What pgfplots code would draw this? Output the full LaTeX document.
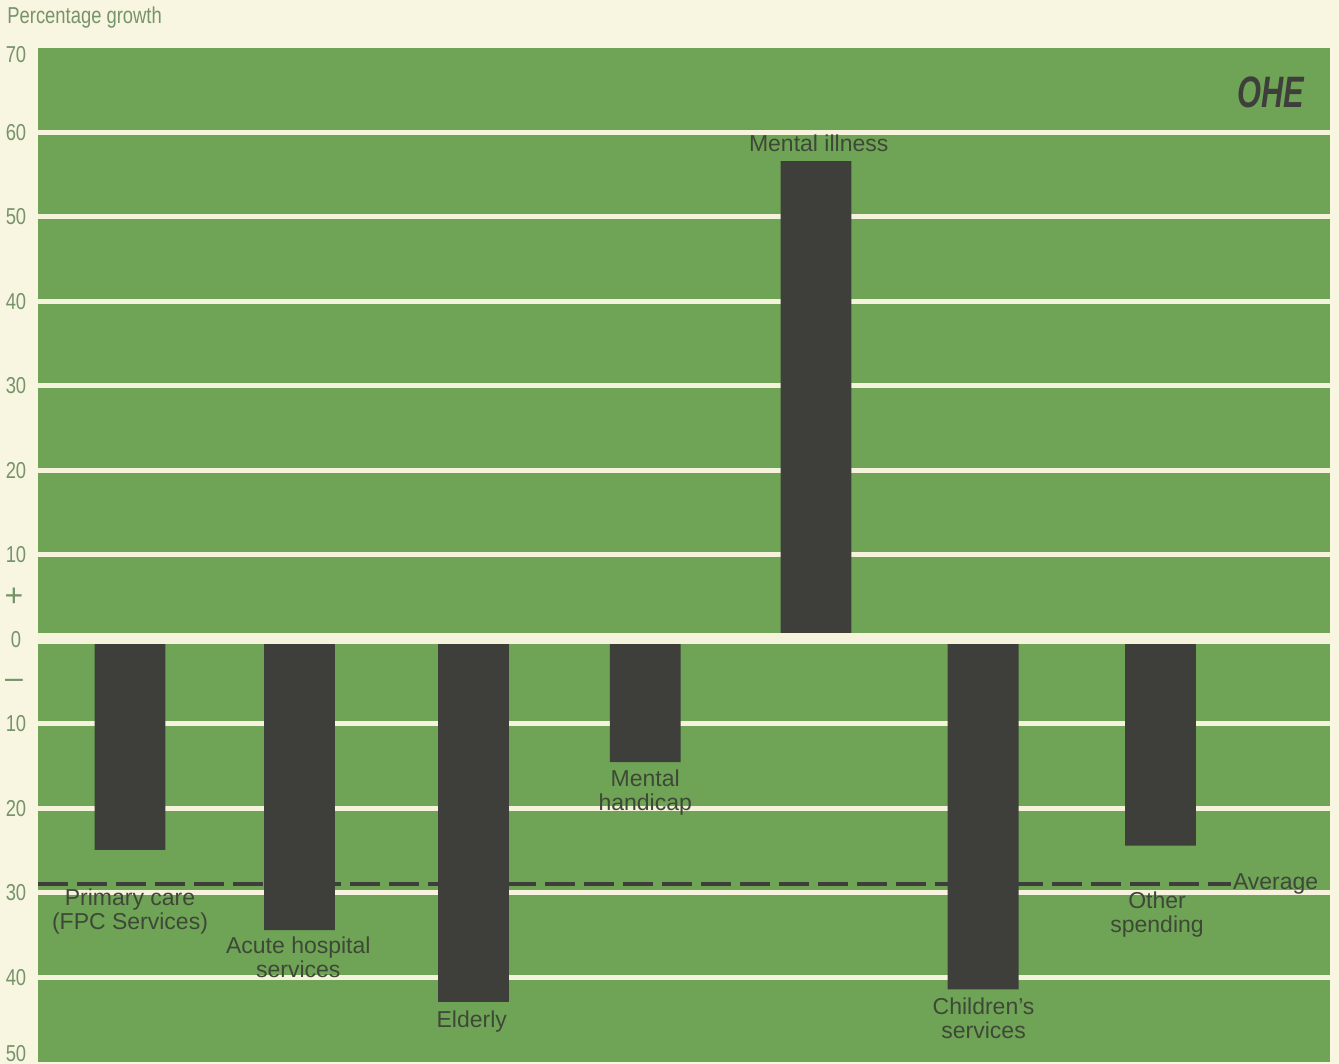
\documentclass[border=0pt]{standalone}
\usepackage{fontspec}
\setmainfont{Liberation Sans}
\newfontfamily\condfont[FakeStretch=0.8]{Liberation Sans}
\newfontfamily\logofont[FakeStretch=0.7]{Liberation Sans}
\usepackage{pgfplots}
\pgfplotsset{compat=1.18}
\definecolor{cream}{RGB}{248,246,224}
\definecolor{gridcream}{RGB}{246,243,220}
\definecolor{ohegreen}{RGB}{111,164,86}
\definecolor{bardark}{RGB}{62,62,58}
\definecolor{ticktext}{RGB}{118,148,106}
\definecolor{labtext}{RGB}{62,72,55}
\begin{document}
\begin{tikzpicture}
\fill[cream] (0,0) rectangle (669.5pt,532pt);
\useasboundingbox (0,0) rectangle (669.5pt,532pt);
\node[anchor=west, font=\condfont\fontsize{11.5}{12}\selectfont, text=ticktext, inner sep=0pt] at (3.5pt,523pt) {Percentage growth};
\begin{axis}[
  at={(19pt,1pt)}, anchor=south west,
  scale only axis, width=646pt, height=507pt,
  xmin=-0.5357, xmax=6.987, ymin=-50, ymax=70,
  axis background/.style={fill=ohegreen},
  axis line style={draw=none},
  major tick length=0pt,
  xtick=\empty,
  ytick={-40,-30,-20,-10,0,10,20,30,40,50,60},
  yticklabels={40,30,20,10,0,10,20,30,40,50,60},
  yticklabel style={anchor=center, xshift=-11pt, font=\condfont\fontsize{11.5}{12}\selectfont, text=ticktext},
  extra y ticks={-50},
  extra y tick labels={50},
  extra y tick style={grid=none, yticklabel style={yshift=4pt}},
  ymajorgrids,
  grid style={gridcream, line width=2.5pt},
  clip=false,
]
\addplot[ybar, bar width=0.413, fill=bardark, draw=none] coordinates {
  (0,-24.9) (0.987,-34.4) (2.0,-42.9) (3.0,-14.5) (3.994,56.6) (4.967,-41.4) (6.0,-24.4)
};
\addplot[gridcream, line width=5.5pt] coordinates {(-0.5357,0.1) (6.987,0.1)};
\addplot[bardark, line width=2pt, dash pattern=on 15pt off 4.5pt] coordinates {(-0.5357,-28.9) (6.41,-28.9)};
\node[font=\condfont\fontsize{11.5}{12}\selectfont, text=ticktext] at ([xshift=-11pt,yshift=-3.5pt]axis cs:-0.5357,70) {70};
\node[font=\fontsize{11.5}{12}\selectfont, text=labtext, anchor=west, inner sep=0pt] at (axis cs:6.42,-28.9) {Average};
\node[font=\fontsize{11.5}{12}\selectfont, text=labtext, align=center] at (axis cs:0,-32.25) {Primary care\\(FPC Services)};
\node[font=\fontsize{11.5}{12}\selectfont, text=labtext, align=center] at (axis cs:0.98,-37.6) {Acute hospital\\services};
\node[font=\fontsize{11.5}{12}\selectfont, text=labtext, align=center] at (axis cs:1.99,-45.2) {Elderly};
\node[font=\fontsize{11.5}{12}\selectfont, text=labtext, align=center] at (axis cs:3,-18.15) {Mental\\handicap};
\node[font=\fontsize{11.5}{12}\selectfont, text=labtext, align=center] at (axis cs:4.01,58.76) {Mental illness};
\node[font=\fontsize{11.5}{12}\selectfont, text=labtext, align=center] at (axis cs:4.97,-44.8) {Children's\\services};
\node[font=\fontsize{11.5}{12}\selectfont, text=labtext, align=center] at (axis cs:5.98,-32.6) {Other\\spending};
\node[font=\logofont\bfseries\itshape\fontsize{22}{22}\selectfont, text=bardark] at (axis cs:6.64,64.8) {OHE};
\node[font=\fontsize{16}{16}\selectfont, text=ticktext] at ([xshift=-12pt]axis cs:-0.5357,5.0) {+};
\node[font=\fontsize{16}{16}\selectfont, text=ticktext] at ([xshift=-12pt]axis cs:-0.5357,-5.2) {\textendash};
\end{axis}
\end{tikzpicture}
\end{document}
